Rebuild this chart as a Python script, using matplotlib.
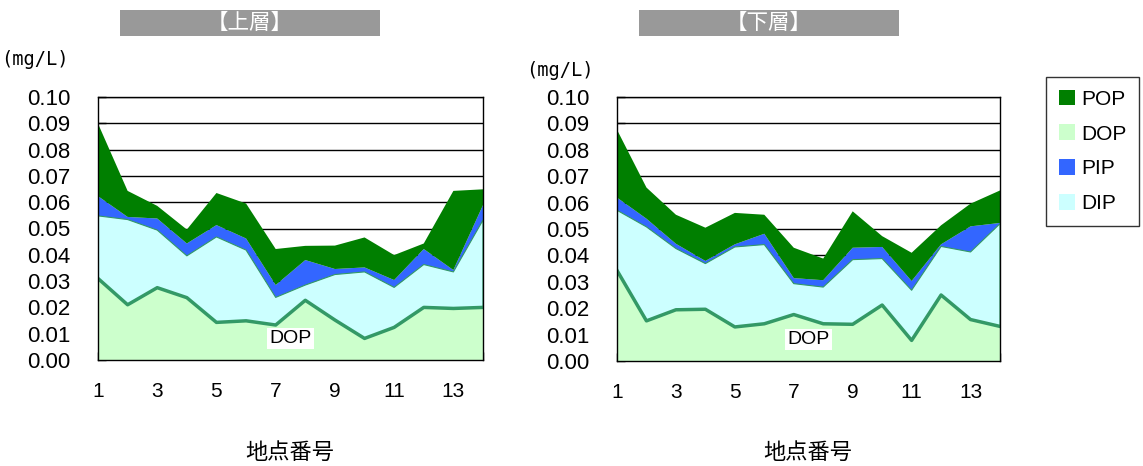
import matplotlib
matplotlib.use("Agg")
import matplotlib.pyplot as plt
from matplotlib.patches import Rectangle, Patch
from matplotlib.transforms import ScaledTranslation
import numpy as np

plt.rcParams['font.family'] = ['Liberation Sans', 'Noto Sans CJK JP', 'DejaVu Sans']

sites = list(range(1, 15))
xtick_labels = ["1", "3", "5", "7", "9", "11", "13"]
yticks = [i / 100 for i in range(11)]

# 上層 (upper layer), mg/L
upper_dop = [0.0310, 0.0210, 0.0275, 0.0237, 0.0143, 0.0149, 0.0133,
             0.0227, 0.0152, 0.0082, 0.0124, 0.0200, 0.0196, 0.0200]
upper_dip = [0.0238, 0.0324, 0.0219, 0.0159, 0.0325, 0.0269, 0.0105,
             0.0058, 0.0173, 0.0253, 0.0152, 0.0163, 0.0139, 0.0332]
upper_pip = [0.0075, 0.0010, 0.0044, 0.0047, 0.0045, 0.0044, 0.0047,
             0.0095, 0.0021, 0.0017, 0.0028, 0.0059, 0.0007, 0.0057]
upper_pop = [0.0276, 0.0099, 0.0048, 0.0053, 0.0122, 0.0133, 0.0137,
             0.0054, 0.0089, 0.0114, 0.0095, 0.0021, 0.0301, 0.0060]

# 下層 (lower layer), mg/L
lower_dop = [0.0343, 0.0152, 0.0194, 0.0196, 0.0129, 0.0141, 0.0176,
             0.0141, 0.0139, 0.0212, 0.0078, 0.0250, 0.0157, 0.0131]
lower_dip = [0.0228, 0.0356, 0.0232, 0.0173, 0.0303, 0.0300, 0.0117,
             0.0139, 0.0245, 0.0176, 0.0190, 0.0184, 0.0256, 0.0389]
lower_pip = [0.0048, 0.0031, 0.0018, 0.0010, 0.0010, 0.0041, 0.0021,
             0.0026, 0.0045, 0.0044, 0.0035, 0.0008, 0.0097, 0.0003]
lower_pop = [0.0257, 0.0118, 0.0110, 0.0126, 0.0119, 0.0072, 0.0115,
             0.0082, 0.0138, 0.0041, 0.0107, 0.0072, 0.0086, 0.0123]

C_POP = "#007F00"
C_DOP = "#CCFFCC"
C_PIP = "#3366FF"
C_DIP = "#CCFFFF"
C_LINE = "#339966"

W, H = 1143, 466
fig = plt.figure(figsize=(W / 100, H / 100), dpi=100)


def px_axes(x0, y0, x1, y1):
    return fig.add_axes([x0 / W, 1 - y1 / H, (x1 - x0) / W, (y1 - y0) / H])


def draw_panel(ax, dop, dip, pip, pop):
    x = np.array(sites)
    dop = np.array(dop)
    dip_top = dop + np.array(dip)
    ax.stackplot(x, dop, dip, pip, pop,
                 colors=[C_DOP, C_DIP, C_PIP, C_POP], linewidth=0, zorder=2)
    ax.plot(x, dop, color=C_LINE, lw=2.5, zorder=3)
    # outline of the DIP band
    ax.plot(list(x) + [x[-1]], list(dip_top) + [dop[-1]],
            color=C_LINE, lw=0.8, zorder=3)
    ax.set_xlim(1, 14)
    ax.set_ylim(0, 0.10)
    ax.set_yticks(yticks)
    ax.set_yticklabels([f"{v:.2f}" for v in yticks], fontsize=16)
    ax.set_xticks(sites)
    ax.set_xticklabels([str(s) if str(s) in xtick_labels else "" for s in sites],
                       fontsize=15)
    # single-digit labels sit a little left of their ticks
    shift = ScaledTranslation(-5 / 100, 0, fig.dpi_scale_trans)
    for lab in ax.get_xticklabels():
        if len(lab.get_text()) == 1:
            lab.set_transform(lab.get_transform() + shift)
    ax.tick_params(axis="y", direction="in", length=6, pad=20, width=1)
    ax.tick_params(axis="x", direction="in", length=6, pad=16, width=1)
    ax.yaxis.grid(True, color="black", lw=1, zorder=1)
    ax.set_axisbelow(True)
    for s in ax.spines.values():
        s.set_color("black")
        s.set_linewidth(1)
        s.set_zorder(4)
    ax.text(7.5, 0.0082, "DOP", fontsize=14, ha="center", va="center",
            bbox=dict(facecolor="white", edgecolor="none", pad=1.5), zorder=5)


ax1 = px_axes(98, 97, 483, 360)
draw_panel(ax1, upper_dop, upper_dip, upper_pip, upper_pop)
ax2 = px_axes(617, 97, 1000, 361)
draw_panel(ax2, lower_dop, lower_dip, lower_pip, lower_pop)

# title boxes
for (x0, x1), label in [((120, 380), "【上層】"), ((639, 899), "【下層】")]:
    fig.patches.append(Rectangle((x0 / W, 1 - 36 / H), (x1 - x0) / W, 26 / H,
                                 transform=fig.transFigure, facecolor="#999999",
                                 edgecolor="none"))
    fig.text((x0 + x1) / 2 / W, 1 - 23 / H, label, color="white", fontsize=15.5,
             ha="center", va="center", family=["Noto Sans CJK JP"])

fig.text(35 / W, 1 - 60 / H, "(mg/L)", fontsize=13.5, ha="center", va="center",
         family=["DejaVu Sans Mono"])
fig.text(560 / W, 1 - 70 / H, "(mg/L)", fontsize=13.5, ha="center", va="center",
         family=["DejaVu Sans Mono"])

fig.text(290 / W, 1 - 452 / H, "地点番号", fontsize=16, ha="center", va="center",
         family=["Noto Sans CJK JP"])
fig.text(808 / W, 1 - 452 / H, "地点番号", fontsize=16, ha="center", va="center",
         family=["Noto Sans CJK JP"])

handles = [Patch(facecolor=C_POP, edgecolor="none"),
           Patch(facecolor=C_DOP, edgecolor="none"),
           Patch(facecolor=C_PIP, edgecolor="none"),
           Patch(facecolor=C_DIP, edgecolor="none")]
leg = fig.legend(handles, ["POP", "DOP", "PIP", "DIP"],
                 loc="upper left", bbox_to_anchor=(1046 / W, 1 - 77 / H),
                 fontsize=15, frameon=True, fancybox=False, edgecolor="black",
                 handlelength=0.8, handleheight=0.8, handletextpad=0.3,
                 labelspacing=0.75, borderpad=0.6, borderaxespad=0)
leg.get_frame().set_linewidth(1)

fig.savefig("out.png", dpi=100)
